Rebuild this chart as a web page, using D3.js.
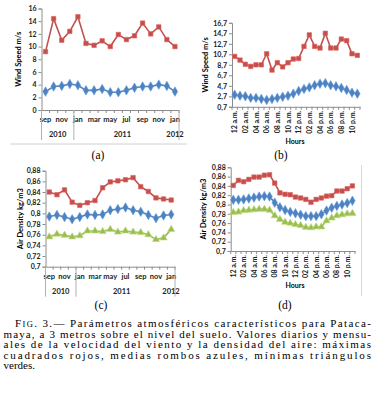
<!DOCTYPE html>
<html>
<head>
<meta charset="utf-8">
<script src="https://cdn.jsdelivr.net/npm/d3@7"></script>
<style>
  body { margin: 0; background: #fff; }
  svg { display: block; }
</style>
</head>
<body>
<svg width="379" height="400"></svg>
<script>
// monthly categories (sep 2010 .. jan 2012)
const months = ["sep","oct","nov","dec","jan","feb","mar","apr","may","jun","jul","aug","sep","oct","nov","dec","jan"];
const years = [{ label: "2010", from: 0, to: 3 }, { label: "2011", from: 4, to: 15 }, { label: "2012", from: 16, to: 16 }];
const hours = ["12 a.m.","01 a.m.","02 a.m.","03 a.m.","04 a.m.","05 a.m.","06 a.m.","07 a.m.","08 a.m.","09 a.m.","10 a.m.","11 a.m.",
               "12 p.m.","01 p.m.","02 p.m.","03 p.m.","04 p.m.","05 p.m.","06 p.m.","07 p.m.","08 p.m.","09 p.m.","10 p.m.","11 p.m."];

// (a) monthly wind speed
const windMonthMax = [9.2, 14.4, 11.0, 12.4, 14.7, 10.5, 10.2, 10.9, 10.0, 11.9, 11.1, 11.7, 13.7, 12.0, 13.1, 11.1, 10.0];
const windMonthMean = [2.9, 3.7, 3.8, 4.1, 3.9, 3.1, 3.1, 3.3, 2.8, 2.8, 3.1, 3.5, 3.7, 3.7, 4.0, 3.8, 2.9];

// (b) hourly wind speed
const windHourMax = [10.3, 9.6, 8.8, 8.4, 8.7, 8.7, 10.8, 7.7, 9.1, 8.3, 9.1, 9.8, 9.9, 12.2, 14.4, 12.2, 11.9, 14.7, 11.9, 11.9, 13.6, 13.3, 10.8, 10.5];
const windHourMean = [3.0, 2.8, 2.7, 2.4, 2.4, 2.2, 2.0, 2.2, 2.4, 2.6, 2.8, 3.2, 3.7, 4.1, 4.4, 4.8, 5.1, 5.2, 4.8, 4.6, 4.3, 3.9, 3.4, 3.2];

// (c) monthly air density
const densMonthMax = [0.840, 0.835, 0.844, 0.821, 0.815, 0.820, 0.824, 0.848, 0.859, 0.861, 0.863, 0.867, 0.850, 0.841, 0.829, 0.827, 0.825];
const densMonthMean = [0.794, 0.797, 0.793, 0.789, 0.793, 0.798, 0.797, 0.798, 0.806, 0.808, 0.811, 0.806, 0.803, 0.797, 0.791, 0.796, 0.798];
const densMonthMin = [0.756, 0.761, 0.759, 0.756, 0.758, 0.767, 0.767, 0.766, 0.770, 0.765, 0.767, 0.765, 0.764, 0.760, 0.751, 0.754, 0.770];

// (d) hourly air density
const densHourMax = [0.841, 0.852, 0.849, 0.854, 0.859, 0.859, 0.863, 0.864, 0.846, 0.825, 0.822, 0.821, 0.816, 0.814, 0.811, 0.805, 0.811, 0.814, 0.818, 0.819, 0.829, 0.829, 0.834, 0.840];
const densHourMean = [0.810, 0.810, 0.811, 0.813, 0.815, 0.817, 0.818, 0.817, 0.804, 0.794, 0.788, 0.784, 0.781, 0.778, 0.775, 0.775, 0.775, 0.779, 0.787, 0.793, 0.797, 0.800, 0.803, 0.808];
const densHourMin = [0.783, 0.784, 0.787, 0.788, 0.789, 0.790, 0.790, 0.788, 0.776, 0.768, 0.762, 0.760, 0.757, 0.755, 0.751, 0.750, 0.752, 0.752, 0.765, 0.771, 0.776, 0.778, 0.780, 0.781];

const caption = [
  "Parámetros atmosféricos característicos para Pataca-",
  "maya, a 3 metros sobre el nivel del suelo. Valores diarios y mensu-",
  "ales de la velocidad del viento y la densidad del aire: máximas",
  "cuadrados rojos, medias  rombos azules, mínimas  triángulos",
  "verdes."
];

const svg = d3.select("svg");
const sans = "Lato, 'Liberation Sans', Arial, sans-serif";
const serif = "'Liberation Serif', 'DejaVu Serif', serif";
const axisColor = "#8c8c8c";
const RED = "#c0504d", BLUE = "#4f81bd", GREEN = "#9bbb59";

const comma = d3.formatLocale({ decimal: ",", thousands: ".", grouping: [3], currency: ["", ""] });
const fmt = comma.format(".2~f");

const sym = {
  square: d3.symbol().type(d3.symbolSquare).size(20),
  diamond: d3.symbol().type(d3.symbolDiamond).size(26),
  triangle: d3.symbol().type(d3.symbolTriangle).size(22)
};

function panel(opt) {
  const g = svg.append("g");
  const n = opt.series[0].values.length;

  const x = d3.scaleBand().domain(d3.range(n)).range([opt.x0, opt.x1]).padding(0);
  const cx = i => x(i) + x.bandwidth() / 2;
  const y = d3.scaleLinear().domain(opt.yDomain).range([opt.yBottom, opt.yTop]);

  // y axis
  const yAxis = g.append("g")
    .attr("transform", `translate(${opt.x0},0)`)
    .call(d3.axisLeft(y).tickValues(opt.yTicks).tickFormat(opt.yFormat).tickSize(3).tickPadding(2));
  yAxis.select(".domain").attr("stroke", axisColor);
  yAxis.selectAll(".tick line").attr("stroke", axisColor);
  yAxis.selectAll("text")
    .style("font-family", sans).style("font-size", "7px").style("font-weight", "bold").attr("fill", "#222");

  // x axis
  const xAxis = g.append("g")
    .attr("transform", `translate(0,${opt.yBottom})`)
    .call(d3.axisBottom(x).tickSize(0).tickFormat(""));
  xAxis.select(".domain").attr("stroke", axisColor);
  xAxis.selectAll(".tick").remove();
  // category tick marks on band boundaries
  g.append("g").selectAll("line")
    .data(d3.range(n + 1))
    .join("line")
    .attr("x1", i => opt.x0 + i * x.bandwidth())
    .attr("x2", i => opt.x0 + i * x.bandwidth())
    .attr("y1", opt.yBottom).attr("y2", opt.yBottom + 3)
    .attr("stroke", axisColor);

  if (opt.rotated) {
    g.append("g").selectAll("text")
      .data(d3.range(0, n, 2))
      .join("text")
      .attr("transform", i => `translate(${cx(i) + 2.5},${opt.yBottom + 4}) rotate(-90)`)
      .attr("text-anchor", "end")
      .style("font-family", sans).style("font-size", "7px").style("font-weight", "bold")
      .attr("fill", "#222")
      .text(i => opt.labels[i]);
    g.append("text")
      .attr("x", opt.hoursX).attr("y", opt.hoursY)
      .attr("text-anchor", "middle")
      .style("font-family", sans).style("font-size", "7px").style("font-weight", "bold")
      .text("Hours");
  } else {
    g.append("g").selectAll("text")
      .data(d3.range(0, n, 2))
      .join("text")
      .attr("x", i => cx(i)).attr("y", opt.yBottom + 12)
      .attr("text-anchor", "middle")
      .style("font-family", sans).style("font-size", "7.5px").style("font-weight", "bold")
      .attr("fill", "#222")
      .text(i => opt.labels[i]);
    // year level
    const seps = [0, 4, n];
    g.append("g").selectAll("line")
      .data(seps)
      .join("line")
      .attr("x1", i => opt.x0 + i * x.bandwidth())
      .attr("x2", i => opt.x0 + i * x.bandwidth())
      .attr("y1", opt.yBottom).attr("y2", opt.yBottom + 30)
      .attr("stroke", "#b0b0b0");
    g.append("g").selectAll("text")
      .data(years)
      .join("text")
      .attr("x", d => d.label === "2012" ? opt.x1 - 4 : (cx(d.from) + cx(d.to)) / 2)
      .attr("y", opt.yBottom + 27)
      .attr("text-anchor", "middle")
      .style("font-family", sans).style("font-size", "7.5px").style("font-weight", "bold")
      .attr("fill", "#222")
      .text(d => d.label);
  }

  // y title
  g.append("text")
    .attr("transform", `translate(${opt.titleX},${(opt.yTop + opt.yBottom) / 2}) rotate(-90)`)
    .attr("text-anchor", "middle")
    .style("font-family", sans).style("font-size", "7.5px").style("font-weight", "bold")
    .text(opt.title);

  // series
  const line = d3.line().x((d, i) => cx(i)).y(d => y(d));
  opt.series.forEach(s => {
    g.append("path")
      .datum(s.values)
      .attr("d", line)
      .attr("fill", "none")
      .attr("stroke", s.color)
      .attr("stroke-width", 1.6);
    g.append("g").selectAll("path")
      .data(s.values)
      .join("path")
      .attr("transform", (d, i) => `translate(${cx(i)},${y(d)})`)
      .attr("d", sym[s.shape]())
      .attr("fill", s.color)
      .attr("stroke", d3.color(s.color).brighter(0.5))
      .attr("stroke-width", 0.6);
  });
}

panel({
  x0: 41.5, x1: 179, yTop: 8.5, yBottom: 110,
  yDomain: [0, 16], yTicks: d3.range(0, 17, 2), yFormat: d => d,
  labels: months, title: "Wind Speed m/s", titleX: 21,
  series: [
    { values: windMonthMax, color: RED, shape: "square" },
    { values: windMonthMean, color: BLUE, shape: "diamond" }
  ]
});

panel({
  x0: 232, x1: 360, yTop: 22.8, yBottom: 106.8,
  yDomain: [0.7, 16.7], yTicks: d3.range(0, 9).map(k => 0.7 + 2 * k), yFormat: fmt,
  labels: hours, rotated: true, hoursX: 295, hoursY: 144,
  title: "Wind Speed m/s", titleX: 208,
  series: [
    { values: windHourMax, color: RED, shape: "square" },
    { values: windHourMean, color: BLUE, shape: "diamond" }
  ]
});

panel({
  x0: 45.5, x1: 175, yTop: 170.7, yBottom: 266.7,
  yDomain: [0.7, 0.88], yTicks: d3.range(0, 10).map(k => 0.7 + 0.02 * k), yFormat: fmt,
  labels: months, title: "Air Density kg/m3", titleX: 23,
  series: [
    { values: densMonthMax, color: RED, shape: "square" },
    { values: densMonthMean, color: BLUE, shape: "diamond" },
    { values: densMonthMin, color: GREEN, shape: "triangle" }
  ]
});

panel({
  x0: 230.7, x1: 355, yTop: 167.3, yBottom: 251,
  yDomain: [0.7, 0.88], yTicks: d3.range(0, 10).map(k => 0.7 + 0.02 * k), yFormat: fmt,
  labels: hours, rotated: true, hoursX: 295, hoursY: 288,
  title: "Air Density kg/m3", titleX: 206,
  series: [
    { values: densHourMax, color: RED, shape: "square" },
    { values: densHourMean, color: BLUE, shape: "diamond" },
    { values: densHourMin, color: GREEN, shape: "triangle" }
  ]
});

// frame lines
svg.append("line").attr("x1", 10).attr("x2", 187).attr("y1", 144).attr("y2", 144)
  .attr("stroke", "#d0d0d0");
svg.append("line").attr("x1", 361.5).attr("x2", 361.5).attr("y1", 165).attr("y2", 296)
  .attr("stroke", "#d8d8d8");

// sub-figure labels
[["(a)", 98, 159], ["(b)", 281, 159], ["(c)", 101, 309], ["(d)", 285, 309]].forEach(([t, lx, ly]) => {
  svg.append("text").attr("x", lx).attr("y", ly).attr("text-anchor", "middle")
    .style("font-family", serif).style("font-size", "11.5px").text(t);
});

// caption
const cap = svg.append("g").style("font-family", serif).style("font-size", "11px");
const first = cap.append("text").attr("x", 15).attr("y", 327)
  .attr("textLength", 356).attr("lengthAdjust", "spacing");
first.append("tspan").text("F");
first.append("tspan").style("font-size", "8.5px").text("IG");
first.append("tspan").text(". 3.— " + caption[0]);
caption.slice(1).forEach((t, i) => {
  const last = i === caption.length - 2;
  const tx = cap.append("text").attr("x", 3.5).attr("y", 337.5 + i * 10.5).text(t);
  if (!last) tx.attr("textLength", 367.5).attr("lengthAdjust", "spacing");
});
</script>
</body>
</html>
